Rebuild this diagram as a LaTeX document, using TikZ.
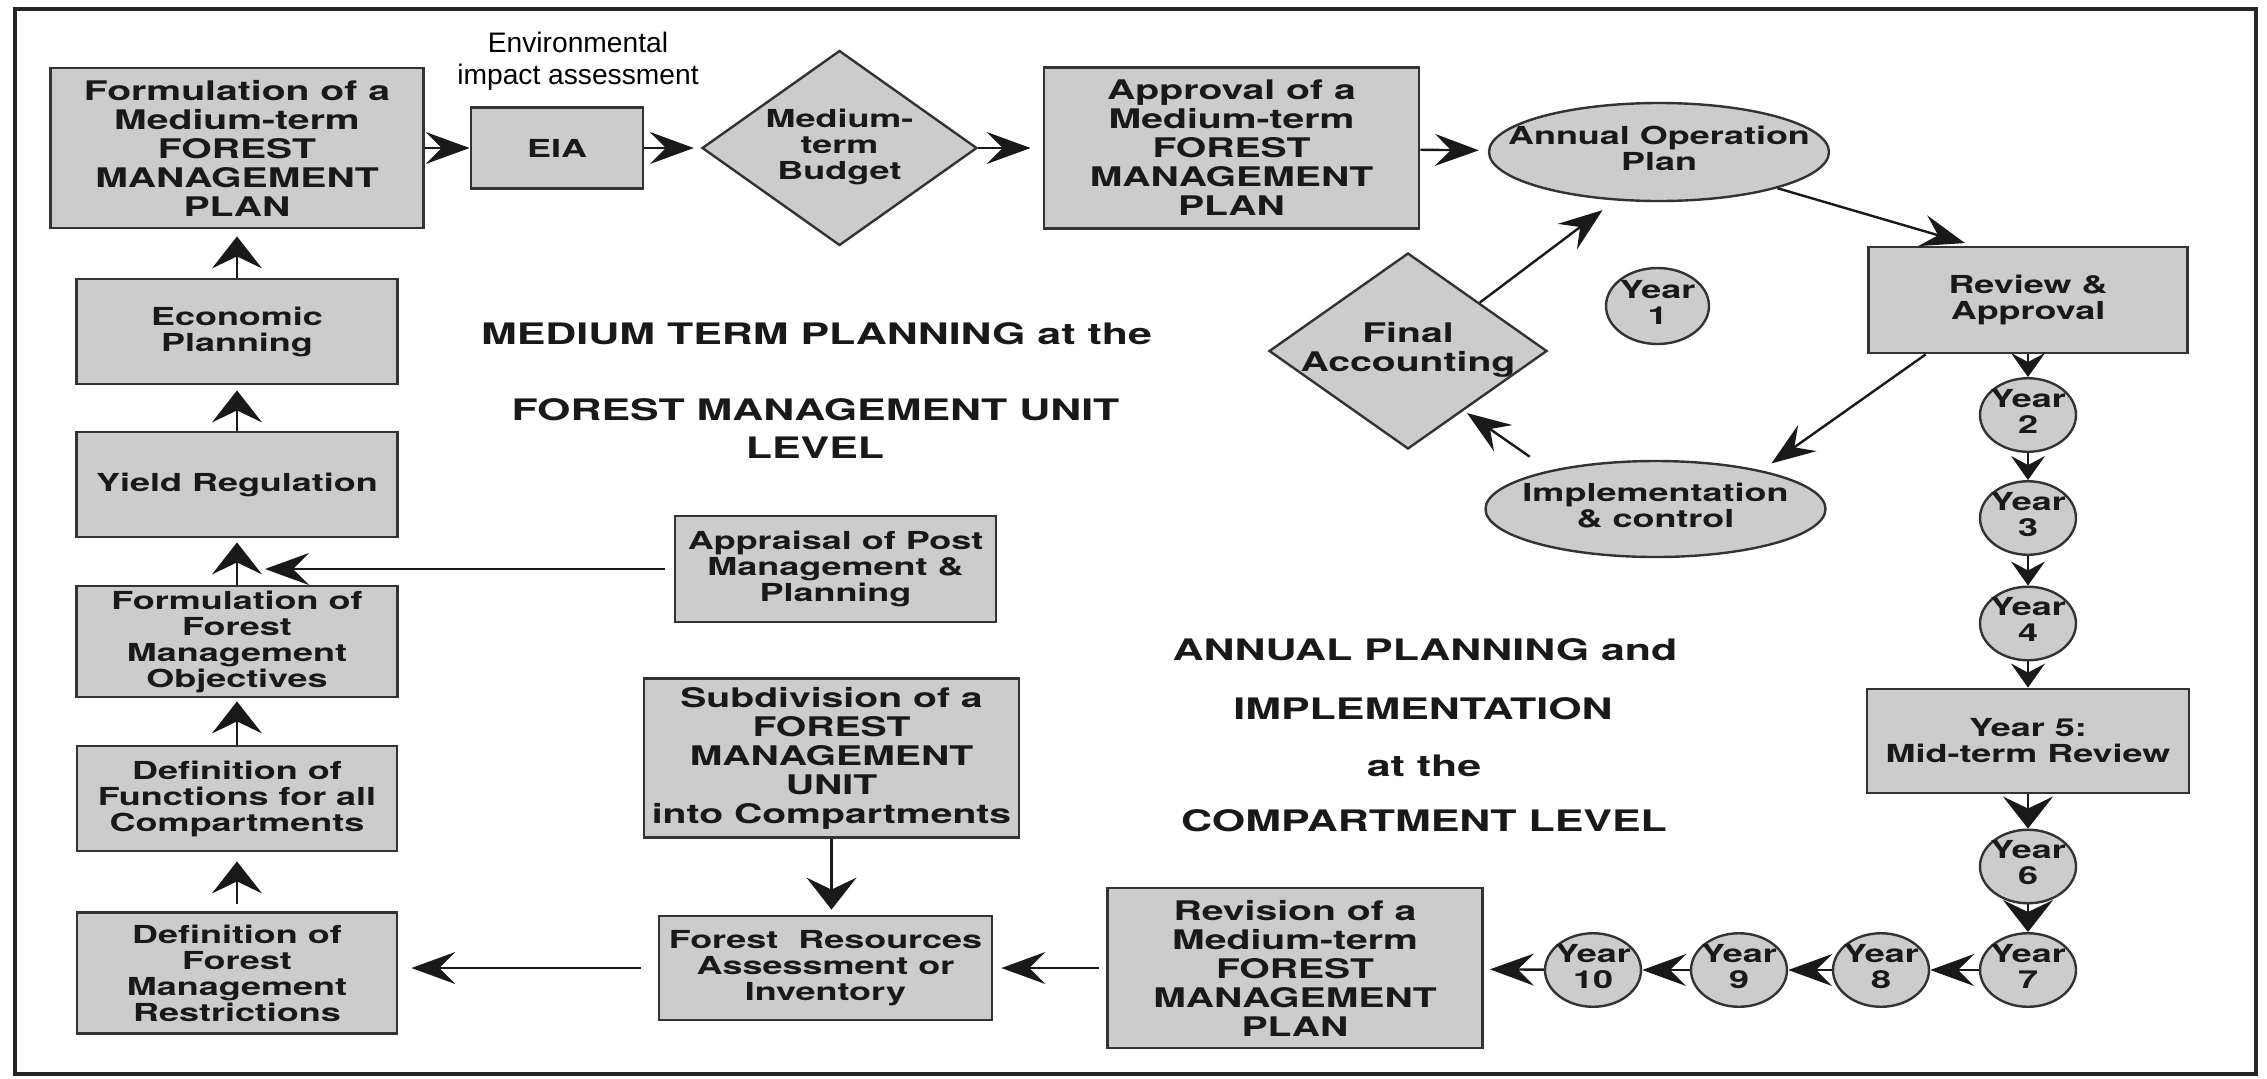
\documentclass[tikz,border=0pt]{standalone}
\usepackage{fontspec}
\usetikzlibrary{shapes.geometric,arrows.meta}

\newfontfamily\heros[FakeStretch=1.45]{TeX Gyre Heros}
\newfontfamily\arialish{Liberation Sans}
\newcommand{\bigtxt}{\heros\bfseries\fontsize{13.5}{14.5}\selectfont}
\newcommand{\smalltxt}{\heros\bfseries\fontsize{12.4}{13}\selectfont}
\newcommand{\titletxt}{\heros\bfseries\fontsize{14.8}{16}\selectfont}
\newcommand{\envtxt}{\arialish\fontsize{14.1}{16}\selectfont}
% text that should not size the shape round it
\newcommand{\shapetext}[1]{\makebox[0pt]{\begin{tabular}{@{}c@{}}#1\end{tabular}}}

\definecolor{boxfill}{gray}{0.8}
\definecolor{boxline}{gray}{0.2}
\definecolor{ink}{gray}{0.1}

\tikzset{
  plate/.style={rectangle, draw=boxline, fill=boxfill, line width=1.4pt,
    inner sep=0pt, align=center, text=ink, font=\smalltxt},
  bigplate/.style={plate, font=\bigtxt},
  oval/.style={ellipse, draw=boxline, fill=boxfill, line width=1.2pt,
    inner sep=0pt, text=ink, font=\smalltxt},
  yearoval/.style={oval, minimum width=48pt, minimum height=34.5pt},
  rhomb/.style={diamond, draw=boxline, fill=boxfill, line width=1.2pt,
    inner sep=0pt, text=ink},
  heading/.style={anchor=base, inner sep=0pt, text=ink, font=\titletxt},
  arr/.style={draw=ink, line width=1.2pt, -{Stealth[length=22pt,width=16pt,inset=8pt]}},
  uparr/.style={draw=ink, line width=1.2pt, -{Stealth[length=16pt,width=25pt,inset=6pt]}},
  yeararr/.style={draw=ink, line width=1.2pt, -{Stealth[length=12pt,width=17pt,inset=4.5pt]}},
}

\begin{document}
\begin{tikzpicture}[x=0.5pt,y=-0.5pt]
\useasboundingbox (0,0) rectangle (2267,1078);
\draw[line width=1.7pt, black!85] (15,9) rectangle (2256,1074);

% medium term planning, top row
\node[bigplate, minimum width=186.5pt, minimum height=80pt] (fmp) at (237,148)
  {Formulation of a\\Medium-term\\FOREST\\MANAGEMENT\\PLAN};
\node[plate, minimum width=86pt, minimum height=40.5pt] (eia) at (557,148) {EIA};
\node[inner sep=0pt, align=center, font=\envtxt] (eiatxt) at (578,61)
  {Environmental\\impact assessment};
\node[rhomb, minimum width=137.5pt, minimum height=97.5pt, font=\smalltxt] (budget) at (839.5,148)
  {\shapetext{Medium-\\term\\Budget}};
\node[bigplate, minimum width=187.5pt, minimum height=80.5pt] (appr) at (1231.5,148)
  {Approval of a\\Medium-term\\FOREST\\MANAGEMENT\\PLAN};

% annual cycle
\node[oval, minimum width=170pt, minimum height=49pt] (aop) at (1659,152)
  {\shapetext{Annual Operation\\Plan}};
\node[plate, minimum width=159.5pt, minimum height=53pt] (review) at (2028,300)
  {Review \&\\Approval};
\node[oval, minimum width=51.5pt, minimum height=38pt] (year1) at (1657.5,306)
  {\shapetext{Year\\1}};
\node[rhomb, minimum width=139pt, minimum height=98pt, font=\bigtxt] (final) at (1408,351)
  {\shapetext{Final\\Accounting}};
\node[oval, minimum width=170pt, minimum height=48pt] (impl) at (1655.5,509)
  {\shapetext{Implementation\\\& control}};

% years 2 to 10
\node[yearoval] (year2) at (2028,415) {\shapetext{Year\\2}};
\node[yearoval] (year3) at (2028,518) {\shapetext{Year\\3}};
\node[yearoval] (year4) at (2028,623.5) {\shapetext{Year\\4}};
\node[plate, minimum width=161pt, minimum height=52pt] (year5) at (2028,741)
  {Year 5:\\Mid-term Review};
\node[yearoval] (year6) at (2028,866.5) {\shapetext{Year\\6}};
\node[yearoval] (year7) at (2028,970) {\shapetext{Year\\7}};
\node[yearoval] (year8) at (1881,970) {\shapetext{Year\\8}};
\node[yearoval] (year9) at (1739,970) {\shapetext{Year\\9}};
\node[yearoval] (year10) at (1593,970) {\shapetext{Year\\10}};

% bottom row and middle
\node[bigplate, minimum width=187.5pt, minimum height=80pt] (revision) at (1295,968)
  {Revision of a\\Medium-term\\FOREST\\MANAGEMENT\\PLAN};
\node[plate, minimum width=166.5pt, minimum height=52pt] (forest) at (825.5,968)
  {Forest\ \ Resources\\Assessment or\\Inventory};
\node[bigplate, minimum width=187.5pt, minimum height=79.5pt] (subdiv) at (831.5,758)
  {Subdivision of a\\FOREST\\MANAGEMENT\\UNIT\\into Compartments};
\node[plate, minimum width=160.5pt, minimum height=53pt] (appraisal) at (835.5,569)
  {Appraisal of Post\\Management \&\\Planning};

% left column
\node[plate, minimum width=160pt, minimum height=60.5pt] (restr) at (237,973)
  {Definition of\\Forest\\Management\\Restrictions};
\node[plate, minimum width=160pt, minimum height=52.5pt] (functions) at (237,798.5)
  {Definition of\\Functions for all\\Compartments};
\node[plate, minimum width=160.5pt, minimum height=55.5pt] (objectives) at (237,641.5)
  {Formulation of\\Forest\\Management\\Objectives};
\node[plate, minimum width=160.5pt, minimum height=52.5pt] (yield) at (237,484.5)
  {Yield Regulation};
\node[plate, minimum width=160.5pt, minimum height=52.5pt] (economic) at (237,331.5)
  {Economic\\Planning};

% headings
\node[heading] (mtp1) at (816.5,344) {MEDIUM TERM PLANNING at the};
\node[heading] (mtp2) at (815.5,420) {FOREST MANAGEMENT UNIT};
\node[heading] (mtp3) at (815,458) {LEVEL};
\node[heading] (apl1) at (1425,660) {ANNUAL PLANNING and};
\node[heading] (apl2) at (1423,719) {IMPLEMENTATION};
\node[heading] (apl3) at (1424,776) {at the};
\node[heading] (apl4) at (1424,831) {COMPARTMENT LEVEL};

% connectors
\draw[arr] (fmp) -- (eia);
\draw[arr, shorten >=3.5pt] (eia) -- (budget);
\draw[arr, shorten >=6pt] (budget) -- (appr);
\draw[arr, shorten >=4.5pt] (appr) -- (aop);
\draw[arr, shorten >=4.5pt] (aop.-17) -- (review.135);
\draw[arr, shorten >=6pt] (review.208) -- (impl.20);
\draw[arr, shorten <=12pt, shorten >=2pt] (impl.160) -- (final.-47);
\draw[arr, shorten >=8pt] (final.34) -- (aop.228);
\draw[yeararr] (review) -- (year2);
\draw[yeararr] (year2) -- (year3);
\draw[yeararr] (year3) -- (year4);
\draw[yeararr] (year4) -- (year5);
\draw[uparr] (year5) -- (year6);
\draw[uparr] (year6) -- (year7);
\draw[arr] (year7) -- (year8);
\draw[arr] (year8) -- (year9);
\draw[arr] (year9) -- (year10);
\draw[arr, shorten >=3pt] (year10) -- (revision);
\draw[arr, shorten <=3.5pt, shorten >=4pt] (revision) -- (forest);
\draw[uparr, shorten >=2.5pt] (subdiv.south) -- (subdiv.south |- forest.north);
\draw[arr, shorten <=8.5pt, shorten >=6.5pt] (forest.west) -- (forest.west -| restr.east);
\draw[uparr, shorten <=3.5pt, shorten >=4.5pt] (restr) -- (functions);
\draw[uparr, shorten >=1.5pt] (functions) -- (objectives);
\draw[uparr, shorten >=2pt] (objectives) -- (yield);
\draw[uparr, shorten >=2.5pt] (yield) -- (economic);
\draw[uparr, shorten >=3.5pt] (economic) -- (fmp);
\coordinate (yieldin) at (265,569);
\draw[arr, shorten <=4.5pt] (appraisal.west) -- (yieldin);
\end{tikzpicture}
\end{document}
